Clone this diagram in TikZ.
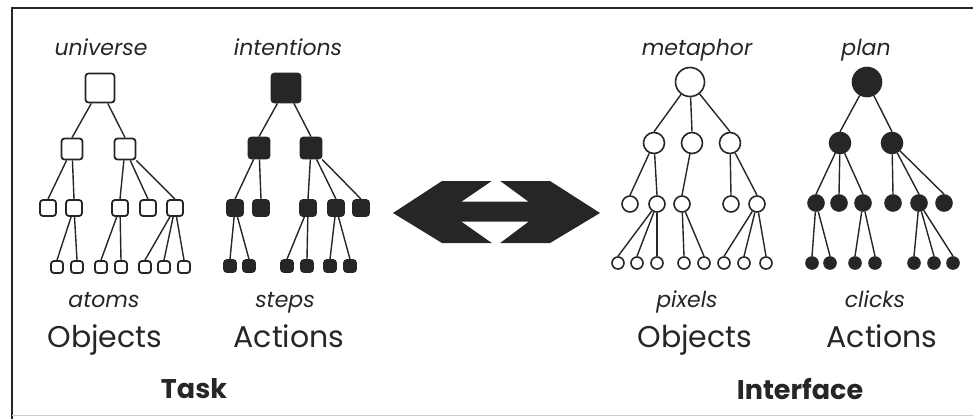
\documentclass[tikz,border=0pt]{standalone}
\usepackage{fontspec}
\setmainfont{Poppins}
\begin{document}
\begin{tikzpicture}[x=1pt,y=-1pt]
\definecolor{ink}{RGB}{38,38,38}
\tikzset{
  sqw/.style={draw=ink, line width=1.8pt, rounded corners=3pt, fill=white, inner sep=0pt, rectangle},
  sqb/.style={sqw, fill=ink},
  ciw/.style={draw=ink, line width=1.6pt, circle, fill=white, inner sep=0pt},
  cib/.style={ciw, fill=ink},
  lv0/.style={minimum size=29pt},
  lv1/.style={minimum size=21pt},
  lv2/.style={minimum size=16pt},
  lv3/.style={minimum size=12pt},
  link/.style={draw=ink, line width=1.4pt},
  lab/.style={font=\fontsize{22}{24}\selectfont\itshape, anchor=base, text=ink, inner sep=0pt},
  big/.style={font=\fontsize{30}{32}\selectfont, anchor=base, text=ink, inner sep=0pt},
  ttl/.style={font=\fontsize{27}{30}\selectfont\bfseries, anchor=base, text=ink, inner sep=0pt}
}
\useasboundingbox (0,0) rectangle (973,418);
% frame
\draw[ink, line width=1.2pt] (980,8) -- (12,8) -- (12,420);
\draw[gray!40, line width=0.8pt] (12,415) -- (980,415);

% ---------- Tree 1: outlined squares ----------
\node[sqw,lv0] (t1r) at (100,88) {};
\node[sqw,lv1] (t1a) at (72,149) {};
\node[sqw,lv1] (t1b) at (125,149) {};
\node[sqw,lv2] (t1c) at (48,208) {};
\node[sqw,lv2] (t1d) at (74,208) {};
\node[sqw,lv2] (t1e) at (120,208) {};
\node[sqw,lv2] (t1f) at (148,208) {};
\node[sqw,lv2] (t1g) at (175,208) {};
\node[sqw,lv3] (t1h) at (57,267) {};
\node[sqw,lv3] (t1i) at (77,267) {};
\node[sqw,lv3] (t1j) at (101,267) {};
\node[sqw,lv3] (t1k) at (121,267) {};
\node[sqw,lv3] (t1l) at (145,267) {};
\node[sqw,lv3] (t1m) at (164,267) {};
\node[sqw,lv3] (t1n) at (184,267) {};
\foreach \p/\c in {r/a,r/b,a/c,a/d,b/e,b/f,b/g,d/h,d/i,e/j,e/k,g/l,g/m,g/n}
  \draw[link] (t1\p) -- (t1\c.north);

% ---------- Tree 2: filled squares ----------
\node[sqb,lv0] (t2r) at (286,88) {};
\node[sqb,lv1] (t2a) at (259,148) {};
\node[sqb,lv1] (t2b) at (311,148) {};
\node[sqb,lv2] (t2c) at (235,208) {};
\node[sqb,lv2] (t2d) at (261,208) {};
\node[sqb,lv2] (t2e) at (308,208) {};
\node[sqb,lv2] (t2f) at (336,208) {};
\node[sqb,lv2] (t2g) at (361,208) {};
\node[sqb,lv3] (t2h) at (230,266) {};
\node[sqb,lv3] (t2i) at (249,266) {};
\node[sqb,lv3] (t2j) at (287,266) {};
\node[sqb,lv3] (t2k) at (307,266) {};
\node[sqb,lv3] (t2l) at (330,266) {};
\node[sqb,lv3] (t2m) at (350,266) {};
\foreach \p/\c in {r/a,r/b,a/c,a/d,b/e,b/f,b/g,c/h,c/i,e/j,e/k,f/l,f/m}
  \draw[link] (t2\p) -- (t2\c.north);

% ---------- Tree 3: outlined circles ----------
\node[ciw,lv0] (t3r) at (690,82) {};
\node[ciw,lv1] (t3a) at (654,143) {};
\node[ciw,lv1] (t3b) at (692,143) {};
\node[ciw,lv1] (t3c) at (730,143) {};
\node[ciw,lv2] (t3d) at (630,204) {};
\node[ciw,lv2] (t3e) at (657,204) {};
\node[ciw,lv2] (t3f) at (682,204) {};
\node[ciw,lv2] (t3g) at (731,204) {};
\node[ciw,lv2] (t3h) at (757,204) {};
\node[ciw,lv3] (t3i) at (618,263) {};
\node[ciw,lv3] (t3j) at (637,263) {};
\node[ciw,lv3] (t3k) at (657,263) {};
\node[ciw,lv3] (t3l) at (684,263) {};
\node[ciw,lv3] (t3m) at (704,263) {};
\node[ciw,lv3] (t3n) at (724,263) {};
\node[ciw,lv3] (t3o) at (744,263) {};
\node[ciw,lv3] (t3p) at (766,263) {};
\foreach \p/\c in {r/a,r/b,r/c,a/d,a/e,b/f,c/g,c/h,e/i,e/j,e/k,f/l,f/m,h/n,h/o,h/p}
  \draw[link] (t3\p) -- (t3\c.north);

% ---------- Tree 4: filled circles ----------
\node[cib,lv0] (t4r) at (867,82) {};
\node[cib,lv1] (t4a) at (840,143) {};
\node[cib,lv1] (t4b) at (892,143) {};
\node[cib,lv2] (t4c) at (816,203) {};
\node[cib,lv2] (t4d) at (839,203) {};
\node[cib,lv2] (t4e) at (863,203) {};
\node[cib,lv2] (t4f) at (893,203) {};
\node[cib,lv2] (t4g) at (919,203) {};
\node[cib,lv2] (t4h) at (944,203) {};
\node[cib,lv3] (t4i) at (812,263) {};
\node[cib,lv3] (t4j) at (830,263) {};
\node[cib,lv3] (t4k) at (855,263) {};
\node[cib,lv3] (t4l) at (875,263) {};
\node[cib,lv3] (t4m) at (914,263) {};
\node[cib,lv3] (t4n) at (934,263) {};
\node[cib,lv3] (t4o) at (953,263) {};
\foreach \p/\c in {r/a,r/b,a/c,a/d,a/e,b/f,b/g,b/h,c/i,c/j,e/k,e/l,g/m,g/n,g/o}
  \draw[link] (t4\p) -- (t4\c.north);

% ---------- double arrow ----------
\fill[ink] (393,213) -- (442,181) -- (550,181) -- (600,213) -- (550,243) -- (442,243) -- cycle;
\fill[white] (494.9,179) -- (497.3,179) -- (528.3,201.7) -- (461.7,201.7) -- cycle;
\fill[white] (461.7,221.7) -- (528.3,221.7) -- (497.3,245) -- (494.9,245) -- cycle;

% ---------- labels ----------
\node[lab] (lu) at (101,55) {universe};
\node[lab] (li) at (288,55) {intentions};
\node[lab] (lm) at (697,55) {metaphor};
\node[lab] (lp) at (866,55) {plan};
\node[lab] (la) at (104,307) {atoms};
\node[lab] (ls) at (285,307) {steps};
\node[lab] (lx) at (687,307) {pixels};
\node[lab] (lc) at (875,307) {clicks};
\node[big] (o1) at (105,347) {Objects};
\node[big] (a1) at (289,347) {Actions};
\node[big] (o2) at (695,347) {Objects};
\node[big] (a2) at (882,347) {Actions};
\node[ttl] (tk) at (194,398) {Task};
\node[ttl] (tf) at (800,399) {Interface};
\end{tikzpicture}
\end{document}
